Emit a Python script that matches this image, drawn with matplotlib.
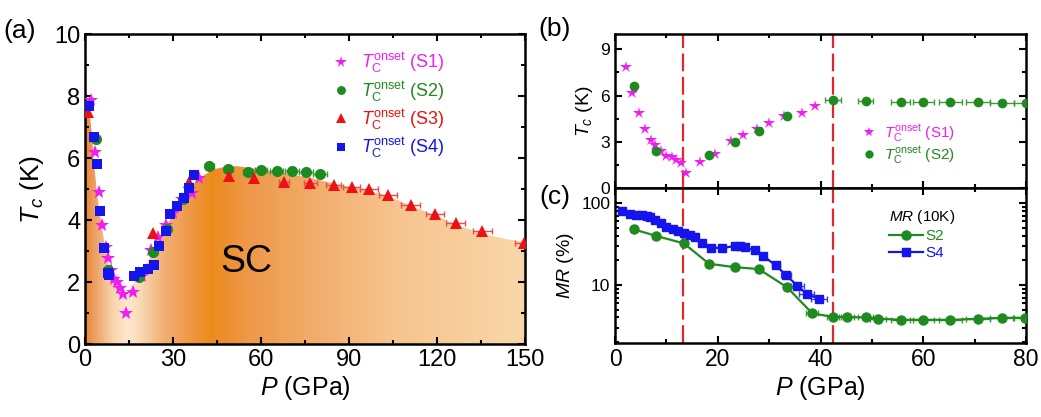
import numpy as np
import matplotlib
matplotlib.use("Agg")
import matplotlib.pyplot as plt
from matplotlib.colors import LinearSegmentedColormap
from matplotlib.patches import Polygon
from matplotlib.ticker import MultipleLocator, FixedLocator, NullFormatter

plt.rcParams['font.family'] = ['Liberation Sans', 'DejaVu Sans']
plt.rcParams['mathtext.fontset'] = 'custom'
plt.rcParams['mathtext.rm'] = 'Liberation Sans'
plt.rcParams['mathtext.it'] = 'Liberation Sans:italic'
plt.rcParams['mathtext.bf'] = 'Liberation Sans:bold'

# ---- data ----
# S1 (stars), Tc onset
s1_p = [2.1, 3.4, 4.7, 5.9, 7.1, 7.8, 8.9, 10.0, 11.0, 11.9, 12.8, 13.9, 16.5,
        19.4, 22.6, 25.0, 27.6, 29.9, 32.9, 36.3, 38.9]
s1_t = [7.88, 6.19, 4.89, 3.85, 3.12, 2.79, 2.40, 2.10, 1.99, 1.82, 1.60, 1.00, 1.67,
        2.19, 3.03, 3.44, 3.83, 4.24, 4.68, 4.86, 5.34]

# S2 (circles), Tc onset
s2_p = [3.6, 7.9, 18.3, 23.3, 28.0, 33.5, 42.4, 48.8, 55.6, 60.0, 65.3, 70.6, 75.3, 80.0]
s2_t = [6.62, 2.40, 2.17, 2.96, 3.70, 4.68, 5.73, 5.64, 5.56, 5.60, 5.58, 5.58, 5.54, 5.50]
s2_err = [0, 0, 0, 0, 0, 0, 1.5, 1.5, 1.8, 2.0, 2.3, 2.3, 2.4, 2.4]

# S3 (triangles), Tc onset
s3_p = [0.9, 23.2, 35.6, 49.1, 57.5, 67.9, 76.7, 84.7, 90.9, 96.8, 103.4, 111.0,
        119.3, 126.3, 135.4, 149.7]
s3_t = [7.50, 3.57, 5.22, 5.41, 5.34, 5.24, 5.21, 5.13, 5.08, 5.01, 4.81, 4.50,
        4.19, 3.89, 3.65, 3.25]
s3_err = [0, 0, 0, 0, 0, 1.7, 2.2, 2.6, 2.8, 3.0, 3.1, 3.2, 3.2, 3.2, 3.2, 3.2]

# S4 (squares), Tc onset
s4_p = [1.4, 2.9, 4.0, 5.2, 6.6, 7.7, 8.2, 16.7, 18.8, 21.3, 23.6, 25.2, 27.5, 29.0,
        31.3, 33.8, 35.6, 37.3]
s4_t = [7.68, 6.69, 5.81, 4.30, 3.09, 2.30, 2.22, 2.20, 2.33, 2.42, 2.54, 3.16, 3.65,
        4.21, 4.46, 4.70, 5.02, 5.45]

# boundary of the SC region
sc_p = [0.0, 1.0, 2.2, 3.1, 4.2, 5.9, 7.6, 9.9, 12.2, 13.9, 15.6, 17.8, 22.4, 26.9,
        31.5, 36.0, 40.6, 44.0, 47.0, 51.7, 59.7, 68.8, 77.8, 86.9, 96.0, 104.0,
        111.9, 119.9, 127.8, 135.8, 143.8, 150.0]
sc_t = [7.7, 7.9, 6.9, 5.83, 4.75, 3.68, 2.71, 2.06, 1.63, 1.53, 1.85, 2.17, 2.82,
        3.68, 4.43, 5.07, 5.45, 5.64, 5.70, 5.74, 5.64, 5.50, 5.34, 5.13, 4.97, 4.75,
        4.43, 4.13, 3.81, 3.55, 3.38, 3.30]

# background colour stops along P
grad_p = [0, 4.5, 9, 14, 18, 27, 35, 43, 55, 80, 105, 150]
grad_c = ['#e8883a', '#f0ad75', '#f8d3ab', '#fce8cf', '#fadcb8', '#f2ae72',
          '#ee9a48', '#ec8a1c', '#ee9848', '#f2ae6e', '#f6c48e', '#f9d7a9']

# MR at 10 K
mr2_p = [3.6, 8.0, 13.4, 18.3, 23.3, 28.0, 33.5, 38.4, 42.4, 45.2, 48.8, 51.2, 55.6,
         60.0, 65.3, 70.6, 75.3, 79.8]
mr2 = [47.9, 39.7, 32.2, 18.1, 16.5, 15.6, 9.34, 4.48, 4.07, 4.05, 4.0, 3.88, 3.74,
       3.74, 3.74, 3.85, 3.96, 3.96]
mr2_err = [0, 0, 0, 0, 0, 0, 0, 1.2, 1.2, 1.3, 1.5, 1.5, 1.8, 2.0, 2.3, 2.3, 2.4, 2.4]

mr4_p = [1.4, 2.9, 4.0, 5.2, 6.2, 6.9, 7.8, 9.0, 10.0, 11.2, 12.3, 13.4, 14.5, 15.5,
         17.0, 18.7, 20.9, 23.3, 24.3, 25.3, 27.2, 28.9, 31.3, 33.3, 35.5, 37.3, 39.7]
mr4 = [79, 73.8, 71.8, 71.1, 69.8, 67.3, 62.4, 56.8, 51.1, 47.9, 45.7, 42.8, 40.8,
       38.5, 32.9, 28.5, 28.2, 29.9, 29.6, 29.0, 26.4, 22.5, 17.3, 13.1, 9.8, 7.74, 6.78]
mr4_err = [0]*22 + [0.8, 1.0, 1.2, 1.4, 1.5]

p_lines = [13.2, 42.5]

MAG = '#f01ef0'
GRN = '#1f8a1f'
RED = '#ee1111'
BLU = '#1414ee'
DASH = '#e0282c'

fig = plt.figure(figsize=(10.41, 4.17), dpi=100)
ax_a = fig.add_axes([0.0817, 0.175, 0.4227, 0.7434])
ax_b = fig.add_axes([0.5908, 0.5492, 0.3948, 0.3693])
ax_c = fig.add_axes([0.5908, 0.1775, 0.3948, 0.3717])


def style(ax, lsize):
    for s in ax.spines.values():
        s.set_linewidth(1.8)
    ax.tick_params(which='both', direction='in', top=True, right=True, width=1.5,
                   labelsize=lsize)
    ax.tick_params(which='major', length=5)
    ax.tick_params(which='minor', length=3)


# ---- (a) ----
cmap = LinearSegmentedColormap.from_list('sc', list(zip(np.array(grad_p) / 150, grad_c)))
im = ax_a.imshow(np.linspace(0, 1, 600)[None, :], aspect='auto', cmap=cmap,
                 extent=[0, 150, 0, 10], origin='lower', zorder=0)
poly = Polygon(list(zip(sc_p, sc_t)) + [(150, 0), (0, 0)], closed=True,
               transform=ax_a.transData, facecolor='none', edgecolor='none')
ax_a.add_patch(poly)
im.set_clip_path(poly)

ax_a.errorbar(s3_p, s3_t, xerr=s3_err, fmt='none', ecolor='#e85050', elinewidth=1,
              capsize=2, capthick=1, zorder=2)
ax_a.errorbar(s2_p, s2_t, xerr=s2_err, fmt='none', ecolor='#3a9a3a', elinewidth=1,
              capsize=2, capthick=1, zorder=2)
ax_a.plot(s1_p, s1_t, '*', color=MAG, ms=10.5, mew=0, ls='none', zorder=3,
          label=r'$T_\mathrm{C}^\mathrm{onset}$ (S1)')
ax_a.plot(s2_p, s2_t, 'o', color=GRN, ms=8, mew=0, ls='none', zorder=3,
          label=r'$T_\mathrm{C}^\mathrm{onset}$ (S2)')
ax_a.plot(s3_p, s3_t, '^', color=RED, ms=9, mew=0, ls='none', zorder=3,
          label=r'$T_\mathrm{C}^\mathrm{onset}$ (S3)')
ax_a.plot(s4_p, s4_t, 's', color=BLU, ms=7, mew=0, ls='none', zorder=3,
          label=r'$T_\mathrm{C}^\mathrm{onset}$ (S4)')

ax_a.set_xlim(0, 150)
ax_a.set_ylim(0, 10)
ax_a.xaxis.set_major_locator(MultipleLocator(30))
ax_a.xaxis.set_minor_locator(MultipleLocator(15))
ax_a.yaxis.set_major_locator(MultipleLocator(2))
ax_a.yaxis.set_minor_locator(MultipleLocator(1))
style(ax_a, 17)
ax_a.set_xlabel(r'$P$ (GPa)', fontsize=18, labelpad=2)
ax_a.set_ylabel(r'$T_c$ (K)', fontsize=19, labelpad=6)
ax_a.text(55, 2.65, 'SC', fontsize=27, ha='center', va='center')
ax_a.legend(loc='upper left', bbox_to_anchor=(0.54, 0.975), frameon=False,
            fontsize=13, handlelength=1.0, handletextpad=0.6, labelspacing=0.2,
            borderpad=0, labelcolor='markerfacecolor', markerscale=0.8)

# ---- (b) ----
ax_b.errorbar(s2_p, s2_t, xerr=s2_err, fmt='none', ecolor='#3a9a3a', elinewidth=1,
              capsize=2, capthick=1, zorder=2)
ax_b.plot(s1_p, s1_t, '*', color=MAG, ms=9, mew=0, ls='none', zorder=3,
          label=r'$T_\mathrm{C}^\mathrm{onset}$ (S1)')
ax_b.plot(s2_p, s2_t, 'o', color=GRN, ms=7, mew=0, ls='none', zorder=3,
          label=r'$T_\mathrm{C}^\mathrm{onset}$ (S2)')
for p in p_lines:
    ax_b.axvline(p, color=DASH, lw=1.6, ls=(0, (8, 2.5)), zorder=1)
ax_b.set_xlim(0, 80)
ax_b.set_ylim(0, 10)
ax_b.xaxis.set_major_locator(MultipleLocator(20))
ax_b.xaxis.set_minor_locator(MultipleLocator(10))
ax_b.yaxis.set_major_locator(FixedLocator([0, 3, 6, 9]))
ax_b.yaxis.set_minor_locator(MultipleLocator(1.5))
style(ax_b, 12.5)
ax_b.tick_params(labelbottom=False)
ax_b.set_ylabel(r'$T_c$ (K)', fontsize=14, labelpad=4)
ax_b.legend(loc='upper left', bbox_to_anchor=(0.58, 0.475), frameon=False,
            fontsize=11, handlelength=1.0, handletextpad=0.5, labelspacing=0.0,
            borderpad=0, labelcolor='markerfacecolor', markerscale=0.85)

# ---- (c) ----
ax_c.errorbar(mr2_p, mr2, xerr=mr2_err, fmt='none', ecolor='#3a9a3a', elinewidth=1,
              capsize=2, capthick=1, zorder=2)
ax_c.errorbar(mr4_p, mr4, xerr=mr4_err, fmt='none', ecolor='#3a3aee', elinewidth=1,
              capsize=2, capthick=1, zorder=2)
ax_c.plot(mr2_p, mr2, '-o', color=GRN, ms=6.5, lw=1.6, zorder=3, label='S2')
ax_c.plot(mr4_p, mr4, '-s', color=BLU, ms=6, lw=1.6, zorder=3, label='S4')
for p in p_lines:
    ax_c.axvline(p, color=DASH, lw=1.6, ls=(0, (8, 2.5)), zorder=1)
ax_c.set_yscale('log')
ax_c.set_xlim(0, 80)
ax_c.set_ylim(1.95, 153)
ax_c.xaxis.set_major_locator(MultipleLocator(20))
ax_c.xaxis.set_minor_locator(MultipleLocator(10))
ax_c.yaxis.set_major_locator(FixedLocator([10, 100]))
ax_c.set_yticklabels(['10', '100'])
ax_c.yaxis.set_minor_formatter(NullFormatter())
style(ax_c, 12.5)
ax_c.tick_params(axis='x', labelsize=16.5)
ax_c.set_xlabel(r'$P$ (GPa)', fontsize=18, labelpad=2)
ax_c.set_ylabel(r'$MR$ (%)', fontsize=14, labelpad=4)
lg = ax_c.legend(loc='upper left', bbox_to_anchor=(0.648, 0.92), frameon=False,
                 fontsize=11, handlelength=2.2, handletextpad=0.2, labelspacing=0.2,
                 borderpad=0, labelcolor='linecolor', title=r'$MR$ (10K)',
                 title_fontsize=11)
lg._legend_box.align = 'left'

fig.text(0.019, 0.925, '(a)', fontsize=19, ha='center', va='center')
fig.text(0.533, 0.93, '(b)', fontsize=19, ha='center', va='center')
fig.text(0.533, 0.527, '(c)', fontsize=19, ha='center', va='center')

fig.savefig('out.png', dpi=100)
